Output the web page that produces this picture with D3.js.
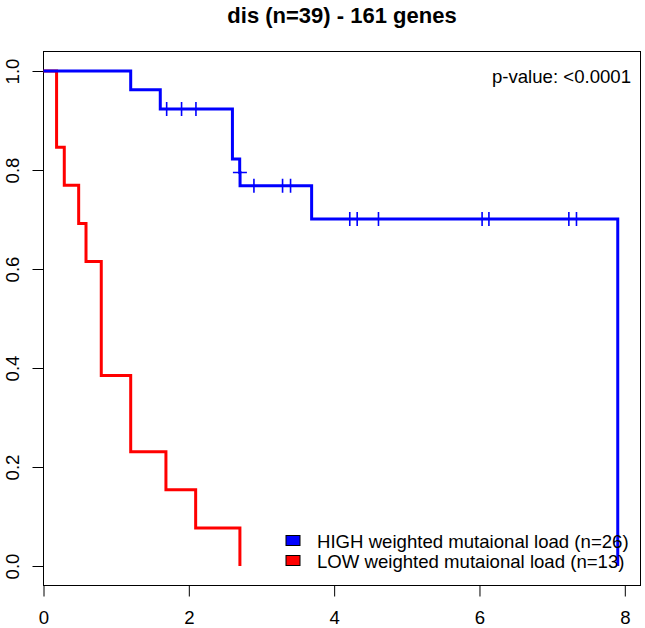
<!DOCTYPE html>
<html>
<head>
<meta charset="utf-8">
<script src="https://cdn.jsdelivr.net/npm/d3@7"></script>
<style>
  html, body { margin: 0; padding: 0; background: #fff; }
  svg { display: block; font-family: "Liberation Sans", Arial, sans-serif; }
</style>
</head>
<body>
<svg id="chart" width="645" height="628"></svg>
<script>
// ---- data ----
const title = "dis (n=39) - 161 genes";
const pValueLabel = "p-value: <0.0001";
const legendLabels = ["HIGH weighted mutaional load (n=26)", "LOW weighted mutaional load (n=13)"];
const seriesColors = ["#0000ff", "#ff0000"];

// HIGH group: step times and survival after each step
const highTimes = [0, 1.20, 1.607, 2.60, 2.700, 2.705, 3.69, 7.903];
const highSurv  = [1, 0.962, 0.923, 0.822, 0.795, 0.768, 0.701, 0];
const highCensor = [1.695, 1.90, 2.098, 2.703, 2.896, 3.29, 3.40, 4.215, 4.317, 4.61, 6.036, 6.13, 7.23, 7.335];

// LOW group
const lowTimes = [0, 0.18, 0.286, 0.484, 0.585, 0.795, 1.20, 1.685, 2.094, 2.703];
const lowSurv  = [1, 0.846, 0.769, 0.692, 0.615, 0.385, 0.231, 0.154, 0.077, 0];
const lowCensor = [];

const xTicks = [0, 2, 4, 6, 8];
const yTicks = [0, 0.2, 0.4, 0.6, 0.8, 1.0];

(function () {
  const svg = d3.select("#chart");
  const pL = 43.5, pR = 640.5, pT = 51.5, pB = 585.5;
  const x = d3.scaleLinear().domain([0, 8.216]).range([pL, pR]);
  const y = d3.scaleLinear().domain([-0.04, 1.04]).range([585.8, 51.2]);
  const fs = 18.6;
  const ff = "Liberation Sans, Arial, sans-serif";

  // title
  svg.append("text")
    .attr("x", (pL + pR) / 2).attr("y", 23)
    .attr("text-anchor", "middle")
    .attr("font-weight", "bold")
    .attr("font-size", 22)
    .text(title);

  // box
  svg.append("rect")
    .attr("x", pL).attr("y", pT)
    .attr("width", pR - pL).attr("height", pB - pT)
    .attr("fill", "none").attr("stroke", "#000").attr("stroke-width", 1);

  // x axis
  const xAxis = svg.append("g")
    .attr("transform", `translate(0,${pB})`)
    .call(d3.axisBottom(x).tickValues(xTicks).tickSize(11).tickPadding(0).tickFormat(d3.format("d")));
  xAxis.select(".domain").remove();
  xAxis.selectAll("line").attr("stroke", "#000");
  xAxis.selectAll("text")
    .attr("y", 38).attr("dy", 0)
    .attr("font-size", fs).attr("font-family", ff)
    .attr("fill", "#000");

  // y axis
  const yAxis = svg.append("g")
    .attr("transform", `translate(${pL},0)`)
    .call(d3.axisLeft(y).tickValues(yTicks).tickSize(11).tickFormat(d3.format(".1f")));
  yAxis.select(".domain").remove();
  yAxis.selectAll("line").attr("stroke", "#000");
  yAxis.selectAll("text").remove();
  yAxis.selectAll(".tick").append("text")
    .attr("transform", `translate(${19 - pL},0) rotate(-90)`)
    .attr("text-anchor", "middle")
    .attr("font-size", fs)
    .attr("font-family", ff)
    .attr("fill", "#000")
    .text(d => d3.format(".1f")(d));

  // curves
  const line = d3.line().x(d => x(d[0])).y(d => y(d[1])).curve(d3.curveStepAfter);
  function survAt(times, surv, t) {
    let s = surv[0];
    for (let i = 0; i < times.length; i++) if (times[i] <= t) s = surv[i];
    return s;
  }
  const groups = [
    {times: highTimes, surv: highSurv, censor: highCensor, color: seriesColors[0]},
    {times: lowTimes, surv: lowSurv, censor: lowCensor, color: seriesColors[1]}
  ];
  [groups[1], groups[0]].forEach(g => {
    const pts = g.times.map((t, i) => [t, g.surv[i]]);
    svg.append("path")
      .attr("d", line(pts))
      .attr("fill", "none")
      .attr("stroke", g.color)
      .attr("stroke-width", 3)
      .attr("stroke-linejoin", "miter")
      .attr("stroke-linecap", "butt");
    const m = 7;
    g.censor.forEach(t => {
      const cx = x(t), cy = y(survAt(g.times, g.surv, t));
      svg.append("path")
        .attr("d", `M${cx - m},${cy}H${cx + m}M${cx},${cy - m}V${cy + m}`)
        .attr("stroke", g.color).attr("stroke-width", 1.6).attr("fill", "none");
    });
  });

  // p-value
  svg.append("text")
    .attr("x", 631).attr("y", 83)
    .attr("text-anchor", "end")
    .attr("font-size", fs)
    .text(pValueLabel);

  // legend
  const legY = [548, 568];
  legendLabels.forEach((lab, i) => {
    svg.append("rect")
      .attr("x", 286).attr("y", legY[i] - 12.5)
      .attr("width", 14).attr("height", 10)
      .attr("fill", seriesColors[i]).attr("stroke", "#000").attr("stroke-width", 1);
    svg.append("text")
      .attr("x", 317).attr("y", legY[i])
      .attr("font-size", fs)
      .text(lab);
  });
})();
</script>
</body>
</html>
